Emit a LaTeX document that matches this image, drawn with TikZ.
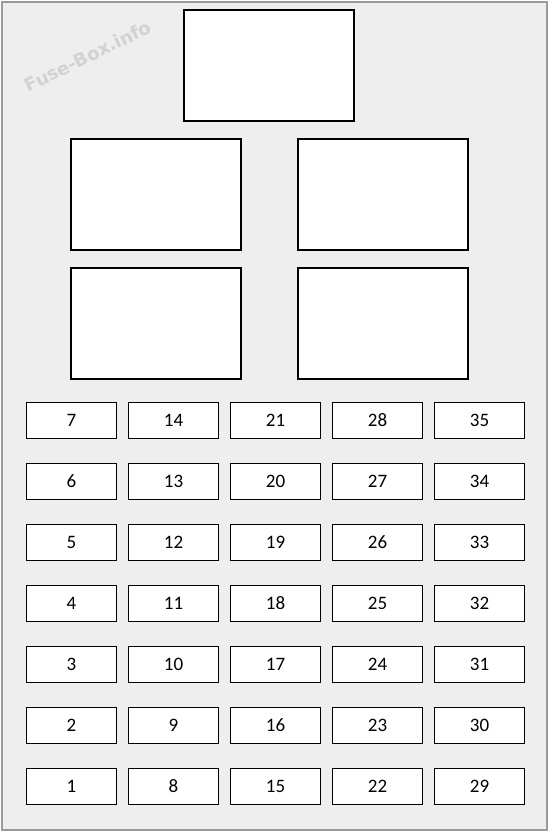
\documentclass[tikz,border=0pt]{standalone}
\usepackage{fontspec}
\setmainfont{Carlito}
\newfontfamily\wmfont{DejaVu Sans}
\definecolor{panel}{HTML}{EEEEEE}
\definecolor{frame}{HTML}{9A9A9A}
\begin{document}
\begin{tikzpicture}[x=1pt,y=-1pt,
  relaybox/.style={draw=black,line width=1.1pt,fill=white},
  fusebox/.style={draw=black,line width=1.1pt,fill=white,minimum width=90pt,minimum height=36pt,inner sep=0pt,font=\fontsize{19}{21}\selectfont,anchor=north west}]
\useasboundingbox (0,0) rectangle (550,833);
\draw[draw=frame,fill=panel,line width=1.5pt] (2,2) rectangle (547,830);
% watermark
\node[rotate=26,font=\wmfont\bfseries\fontsize{18}{20}\selectfont,text=frame!45] (wm) at (88,56) {Fuse-Box.info};
% relays
\draw[relaybox] (184,10) rectangle (354,121);
\draw[relaybox] (71,139) rectangle (241,250);
\draw[relaybox] (298,139) rectangle (468,250);
\draw[relaybox] (71,268) rectangle (241,379);
\draw[relaybox] (298,268) rectangle (468,379);
% fuses
\foreach \c in {0,...,4}{
  \foreach \r in {0,...,6}{
    \pgfmathtruncatemacro{\n}{\c*7+7-\r}
    \node[fusebox] (f\n) at ({26+102*\c},{402+61*\r}) {\n};
  }
}
\end{tikzpicture}
\end{document}
